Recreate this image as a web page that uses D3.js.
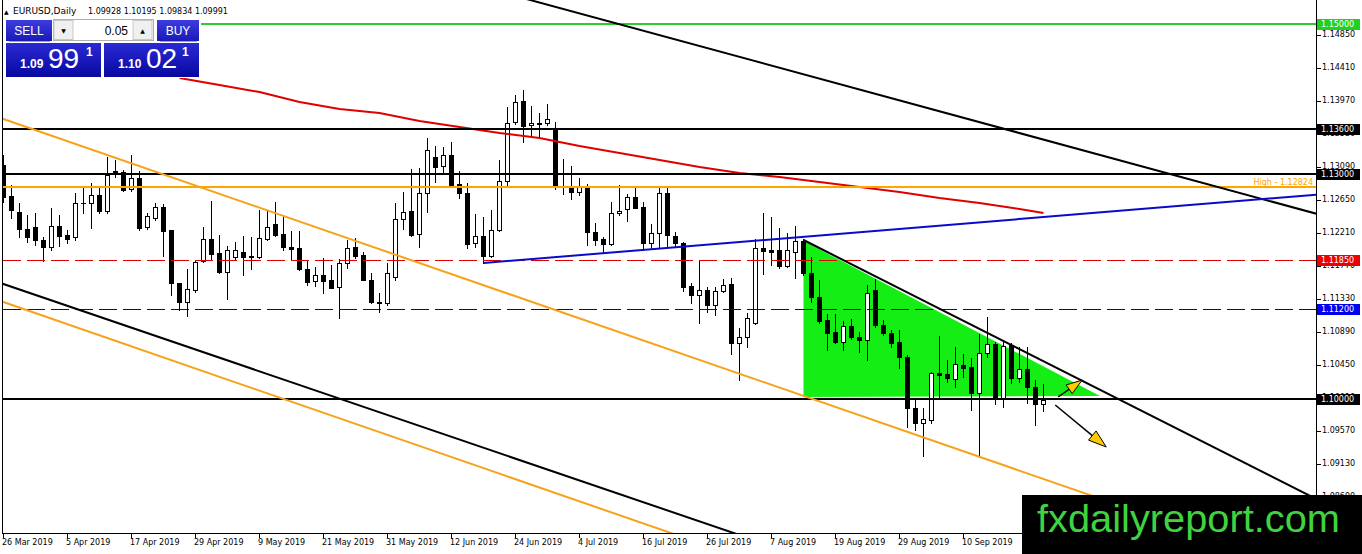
<!DOCTYPE html>
<html><head><meta charset="utf-8">
<script src="https://cdn.jsdelivr.net/npm/d3@7/dist/d3.min.js"></script>
<style>body{margin:0;background:#fff;overflow:hidden}svg{display:block}</style>
</head><body><svg id="c" width="1362" height="554"></svg>
<script>
// ---------- DATA ----------
const symbolTitle = "EURUSD,Daily";
const lastOHLC = "1.09928 1.10195 1.09834 1.09991";
const opens = [
1.1312,1.12707,1.12493,1.12267,1.12293,1.1212,1.12027,1.12307,1.12187,1.1216,
1.12607,1.12613,1.1272,1.12507,1.1304,1.13027,1.128,1.12947,1.12293,1.12413,
1.1256,1.12253,1.11547,1.11293,1.11453,1.1184,1.12133,1.11947,1.11693,1.11893,
1.1196,1.11907,1.11893,1.12133,1.12333,1.122,1.12027,1.12013,1.11733,1.11573,
1.11653,1.11587,1.11493,1.11813,1.12027,1.1192,1.11587,1.11293,1.1128,1.11627,
1.124,1.12507,1.122,1.12747,1.13227,1.13107,1.13253,1.12867,1.12747,1.1208,
1.12173,1.11907,1.12253,1.12907,1.13693,1.13974,1.13653,1.13667,1.1368,1.13613,
1.1284,1.12827,1.1276,1.12827,1.12227,1.12133,1.12067,1.1248,1.12533,1.12693,
1.1256,1.1208,1.12213,1.12747,1.12173,1.1208,1.11507,1.11387,1.11453,1.11253,
1.1144,1.11533,1.10747,1.10827,1.11013,1.12013,1.11987,1.11987,1.11773,1.1196,
1.12107,1.1168,1.1136,1.11053,1.10893,1.1076,1.10973,1.10827,1.10787,1.11453,
1.10987,1.1088,1.1076,1.1056,1.0988,1.0968,1.0972,1.10347,1.10333,1.10267,
1.10453,1.10427,1.1008,1.10613,1.10733,1.1,1.1072,1.1028,1.104,1.1016,
1.09928];
const highs = [
1.13253,1.12853,1.12613,1.12453,1.1248,1.1216,1.12547,1.12453,1.12253,1.12747,
1.12827,1.1288,1.1284,1.13227,1.13187,1.13053,1.13253,1.1304,1.1248,1.12613,
1.126,1.12253,1.11547,1.11733,1.11853,1.12293,1.1264,1.12187,1.1204,1.12093,
1.12173,1.1216,1.1252,1.1252,1.12627,1.12427,1.1224,1.1224,1.11853,1.1176,
1.1188,1.11787,1.11867,1.1212,1.12147,1.1196,1.1168,1.11413,1.11813,1.12613,
1.1276,1.13067,1.1308,1.1348,1.13373,1.1336,1.13427,1.1304,1.1288,1.12467,
1.12427,1.1252,1.13187,1.13893,1.14053,1.1412,1.13907,1.13813,1.13933,1.13693,
1.132,1.13107,1.12947,1.12867,1.12347,1.1216,1.12627,1.12853,1.12733,1.12813,
1.12627,1.12333,1.12813,1.12813,1.12227,1.12093,1.11547,1.11853,1.11493,1.11493,
1.116,1.11613,1.10947,1.11147,1.12133,1.1248,1.12427,1.1228,1.12213,1.12307,
1.12133,1.11893,1.11587,1.11133,1.11133,1.1104,1.11067,1.10893,1.1152,1.116,
1.11053,1.1092,1.1092,1.10587,1.10013,1.0988,1.1036,1.1084,1.1052,1.10693,
1.106,1.10547,1.10867,1.11093,1.1076,1.1076,1.10747,1.10693,1.10693,1.10253,
1.10195];
const lows = [
1.12627,1.12413,1.1216,1.12093,1.12053,1.1184,1.11987,1.1204,1.1208,1.1212,
1.1248,1.1228,1.1248,1.1248,1.1296,1.12773,1.12773,1.12253,1.12267,1.12387,
1.11907,1.11387,1.11187,1.11107,1.11427,1.11827,1.11867,1.1168,1.11333,1.11867,
1.11653,1.11733,1.1188,1.1212,1.12173,1.11987,1.11853,1.1172,1.1152,1.11507,
1.11413,1.1148,1.1108,1.11747,1.1188,1.11587,1.1128,1.1116,1.11253,1.11587,
1.12267,1.12173,1.12027,1.12493,1.12893,1.13013,1.1284,1.1268,1.12013,1.12027,
1.11813,1.11893,1.1224,1.1284,1.13667,1.13427,1.13493,1.13493,1.13653,1.128,
1.12733,1.12667,1.1272,1.12053,1.12053,1.11947,1.12053,1.12453,1.12373,1.12547,
1.11987,1.12,1.12027,1.12027,1.12027,1.1144,1.1128,1.11013,1.1116,1.1112,
1.11427,1.106,1.10253,1.10693,1.11,1.11667,1.11787,1.11747,1.1176,1.11613,
1.11653,1.11293,1.11013,1.10653,1.10747,1.10653,1.108,1.10627,1.1052,1.1096,
1.10853,1.10693,1.10413,1.09627,1.09587,1.0924,1.0968,1.10027,1.10227,1.1016,
1.10293,1.09853,1.09253,1.1056,1.09933,1.09893,1.10213,1.10227,1.09947,1.09653,
1.09834];
const closes = [
1.12693,1.1252,1.12267,1.1216,1.1212,1.12027,1.12307,1.12173,1.12133,1.12613,
1.12613,1.1272,1.12507,1.12987,1.13013,1.12787,1.12947,1.1228,1.1244,1.1256,
1.1224,1.11547,1.11293,1.11467,1.11827,1.12133,1.11933,1.11693,1.11987,1.11987,
1.11893,1.11893,1.12147,1.12293,1.12187,1.12027,1.12,1.11733,1.1156,1.11653,
1.11573,1.1148,1.11813,1.12013,1.11907,1.11587,1.11293,1.1128,1.1168,1.124,
1.12493,1.12187,1.12747,1.1332,1.13093,1.13253,1.12853,1.12747,1.12067,1.12173,
1.11907,1.12253,1.12907,1.1368,1.1396,1.1364,1.1368,1.1368,1.13733,1.12827,
1.12827,1.1276,1.12827,1.12227,1.1212,1.12067,1.1248,1.12507,1.12693,1.12547,
1.1208,1.12213,1.12747,1.12187,1.1208,1.11493,1.11387,1.11453,1.11253,1.1144,
1.1152,1.10747,1.10827,1.1108,1.12013,1.11973,1.1196,1.11773,1.11987,1.12107,
1.1168,1.1136,1.1104,1.1088,1.1076,1.10973,1.10827,1.10787,1.11413,1.10987,
1.1088,1.10747,1.1056,1.0988,1.0968,1.09733,1.10347,1.1032,1.1028,1.10467,
1.10413,1.1008,1.10613,1.10733,1.1,1.10707,1.1028,1.104,1.1016,1.09933,
1.09991];

// moving average (read at sample bars)
const maIdx  = [22,27,32,37,42,47,52,57,62,67,72,77,82,87,92,97,102,107,112,117,122,127,130];
const maVals = [1.1428,1.14187,1.14093,1.1396,1.13867,1.13813,1.13707,1.13627,1.13547,1.1348,1.13373,1.1328,
                1.13187,1.13093,1.13013,1.1296,1.12893,1.12827,1.1276,1.1268,1.12613,1.12533,1.1248];

const dateIdx    = [0,8,16,24,32,40,48,56,64,72,80,88,96,104,112,120];
const dateLabels = ["26 Mar 2019","5 Apr 2019","17 Apr 2019","29 Apr 2019","9 May 2019","21 May 2019",
  "31 May 2019","12 Jun 2019","24 Jun 2019","4 Jul 2019","16 Jul 2019","26 Jul 2019","7 Aug 2019",
  "19 Aug 2019","29 Aug 2019","10 Sep 2019"];
const priceTicks = [1.14850,1.14410,1.13970,1.13530,1.13090,1.12650,1.12210,1.11770,1.11330,
  1.10890,1.10450,1.10010,1.09570,1.09130,1.08690];

// horizontal levels
const levelPrices = [1.15000,1.13600,1.13000,1.12824,1.11850,1.11200,1.10000];
const boxPrices   = [1.15000,1.13600,1.13000,1.11850,1.11200,1.10000];
const highLabel   = "High - 1.12824";

// trend lines: two anchors (bar index, price)
const lowerBlackIdx = [0,80],   lowerBlackP = [1.11532,1.08623];
const upperBlackIdx = [70,150], upperBlackP = [1.15199,1.12879];
const upperOrangeIdx= [0,100],  upperOrangeP= [1.13732,1.10041];
const lowerOrangeIdx= [0,80],   lowerOrangeP= [1.11292,1.0834];
const blueIdx       = [60,105], blueP       = [1.11813,1.12207];
const triLineIdx    = [100,135],triLineP    = [1.1212,1.10235];
// green triangle
const triIdx   = [100,100,137.06];
const triPrice = [1.12107,1.10027,1.1004];
// arrows
const upArrowIdx = [131.84,134.84], upArrowP = [1.10027,1.10253];
const dnArrowIdx = [131.47,137.84], dnArrowP = [1.0992,1.0936];

// trading panel
const sellBig = "99", sellSmall = "1.09", buyBig = "02", buySmall = "1.10", pipFrac = "1", lotSize = "0.05";
const logoText = "fxdailyreport.com";

// ---------- DRAW ----------
const svg = d3.select('#c');
const X0 = 3, X1 = 1316, Y0 = 0, Y1 = 533;
const x = d3.scaleLinear().domain([0,164]).range([3.5,1315.5]);
const y = d3.scaleLinear().domain([1.082133,1.1532]).range([533,0]);
const FONT = "'DejaVu Sans', Verdana, sans-serif";

svg.append('rect').attr('width',1362).attr('height',554).attr('fill','#fff');
const defs = svg.append('defs');
defs.append('clipPath').attr('id','plot').append('rect')
  .attr('x',X0).attr('y',Y0).attr('width',X1-X0).attr('height',Y1-Y0);
const gr1 = defs.append('linearGradient').attr('id','btn').attr('x1',0).attr('y1',0).attr('x2',0).attr('y2',1);
gr1.append('stop').attr('offset','0%').attr('stop-color','#3c3ce0');
gr1.append('stop').attr('offset','100%').attr('stop-color','#1a1ab8');
const gr2 = defs.append('linearGradient').attr('id','pbox').attr('x1',0).attr('y1',0).attr('x2',0).attr('y2',1);
gr2.append('stop').attr('offset','0%').attr('stop-color','#2a2ad4');
gr2.append('stop').attr('offset','100%').attr('stop-color','#0808a0');

const g = svg.append('g').attr('clip-path','url(#plot)');

// green triangle (background)
g.append('path')
  .attr('d', d3.line()(triIdx.map((d,k)=>[x(d), y(triPrice[k])])) + 'Z')
  .attr('fill','#14ee14');

// candles
const bars = d3.range(opens.length).map(i=>({i,o:opens[i],h:highs[i],l:lows[i],c:closes[i]}));
const cg = g.append('g').attr('shape-rendering','crispEdges');
cg.selectAll('rect.wick').data(bars).join('rect').attr('class','wick')
  .attr('x',d=>Math.floor(x(d.i))).attr('y',d=>Math.round(y(d.h)))
  .attr('width',1).attr('height',d=>Math.max(1,Math.round(y(d.l))-Math.round(y(d.h))+1))
  .attr('fill','#000');
const bodyTop = d=>Math.round(y(Math.max(d.o,d.c)));
const bodyH = d=>Math.max(1,Math.round(y(Math.min(d.o,d.c)))-bodyTop(d)+1);
cg.selectAll('rect.body').data(bars).join('rect').attr('class','body')
  .attr('x',d=>Math.floor(x(d.i))-2).attr('y',bodyTop)
  .attr('width',5).attr('height',bodyH).attr('fill','#000');
cg.selectAll('rect.inner').data(bars.filter(d=>d.c>d.o && bodyH(d)>2)).join('rect').attr('class','inner')
  .attr('x',d=>Math.floor(x(d.i))-1).attr('y',d=>bodyTop(d)+1)
  .attr('width',3).attr('height',d=>bodyH(d)-2).attr('fill','#fff');

// moving average
g.append('path').attr('d', d3.line()(maIdx.map((d,k)=>[x(d), y(maVals[k])])))
  .attr('fill','none').attr('stroke','#e00000').attr('stroke-width',2);

// horizontal levels
const levelColor = ['#2ecc2e','#000','#000','#ffa500','#e00000','#0000c0','#000'];
const levelWidth = [2,2,2,2,1,1,2];
const levelDash  = [null,null,null,null,'18,6','18,6',null];
levelPrices.forEach((p,k)=>{
  const yy = levelWidth[k]===1 ? Math.round(y(p))+0.5 : Math.round(y(p));
  g.append('line').attr('x1',X0).attr('x2',X1).attr('y1',yy).attr('y2',yy)
    .attr('stroke',levelColor[k]).attr('stroke-width',levelWidth[k])
    .attr('stroke-dasharray',levelDash[k]).attr('shape-rendering','crispEdges');
});

// trend lines
function trend(idx, pr, color, ray){
  const xa=x(idx[0]), ya=y(pr[0]), xb=x(idx[1]), yb=y(pr[1]);
  const s=(yb-ya)/(xb-xa);
  const xs = ray ? xa : X0-5, xe = X1+5;
  g.append('line').attr('x1',xs).attr('y1',ya+s*(xs-xa)).attr('x2',xe).attr('y2',ya+s*(xe-xa))
    .attr('stroke',color).attr('stroke-width',2);
}
trend(lowerBlackIdx,lowerBlackP,'#000',false);
trend(upperBlackIdx,upperBlackP,'#000',false);
trend(upperOrangeIdx,upperOrangeP,'#f7a21b',false);
trend(lowerOrangeIdx,lowerOrangeP,'#f7a21b',false);
trend(blueIdx,blueP,'#0a0ac8',true);
trend(triLineIdx,triLineP,'#000',true);

// arrows
function arrow(idx, pr, headLen){
  const xa=x(idx[0]), ya=y(pr[0]), xb=x(idx[1]), yb=y(pr[1]);
  const L=Math.hypot(xb-xa,yb-ya), ux=(xb-xa)/L, uy=(yb-ya)/L;
  const bx=xb-ux*headLen, by=yb-uy*headLen, hw=headLen*0.33;
  g.append('line').attr('x1',xa).attr('y1',ya).attr('x2',bx).attr('y2',by)
    .attr('stroke','#000').attr('stroke-width',1.5);
  g.append('path').attr('d',`M${xb},${yb}L${bx-uy*hw},${by+ux*hw}L${bx+uy*hw},${by-ux*hw}Z`)
    .attr('fill','#ffcc00').attr('stroke','#000').attr('stroke-width',1);
}
arrow(upArrowIdx,upArrowP,16);
arrow(dnArrowIdx,dnArrowP,18);

// frame
svg.append('g').attr('shape-rendering','crispEdges').call(s=>{
  s.append('line').attr('x1',2.5).attr('x2',2.5).attr('y1',0).attr('y2',534).attr('stroke','#000');
  s.append('line').attr('x1',X1+0.5).attr('x2',X1+0.5).attr('y1',0).attr('y2',534).attr('stroke','#000');
  s.append('line').attr('x1',2).attr('x2',X1+1).attr('y1',Y1+0.5).attr('y2',Y1+0.5).attr('stroke','#000');
});

// price axis
const ax = svg.append('g');
priceTicks.forEach(p=>{
  const yy=Math.round(y(p))+0.5;
  ax.append('line').attr('x1',X1+1).attr('x2',X1+5).attr('y1',yy).attr('y2',yy).attr('stroke','#000').attr('shape-rendering','crispEdges');
  ax.append('text').attr('x',1322).attr('y',yy-1).attr('dominant-baseline','central')
    .attr('font-family',FONT).attr('font-size',8).attr('fill','#000').text(p.toFixed(5));
});
// date axis
dateIdx.forEach((d,k)=>{
  const xx=Math.floor(x(d))+0.5;
  ax.append('line').attr('x1',xx).attr('x2',xx).attr('y1',Y1+1).attr('y2',Y1+5).attr('stroke','#000').attr('shape-rendering','crispEdges');
  ax.append('text').attr('x',xx-1.5).attr('y',542).attr('dominant-baseline','central')
    .attr('font-family',FONT).attr('font-size',8).attr('fill','#000').text(dateLabels[k]);
});

// level boxes on axis
const boxColor = ['#1ed21e','#000','#000','#ee0000','#0000ee','#000'];
boxPrices.forEach((p,k)=>{
  const yy=Math.round(y(p));
  ax.append('rect').attr('x',1317).attr('y',yy-5).attr('width',43).attr('height',11).attr('fill',boxColor[k]);
  ax.append('text').attr('x',1321).attr('y',yy+0.5).attr('dominant-baseline','central')
    .attr('font-family',FONT).attr('font-size',8).attr('fill','#fff').text(p.toFixed(5));
});
ax.append('text').attr('x',1313).attr('y',y(1.12824)-5).attr('text-anchor','end').attr('dominant-baseline','central')
  .attr('font-family',FONT).attr('font-size',8).attr('fill','#ffa500').text(highLabel);

// header
svg.append('text').attr('x',4).attr('y',11).attr('dominant-baseline','central')
  .attr('font-family',FONT).attr('font-size',6).attr('fill','#000').text('▲');
svg.append('text').attr('x',13).attr('y',11).attr('dominant-baseline','central')
  .attr('font-family',FONT).attr('font-size',9).attr('fill','#000').text(symbolTitle);
svg.append('text').attr('x',88).attr('y',11).attr('dominant-baseline','central')
  .attr('font-family',FONT).attr('font-size',8).attr('fill','#000').text(lastOHLC);

// trading panel
const pn = svg.append('g');
const SANS = "'Liberation Sans', Arial, sans-serif";
pn.append('rect').attr('x',3).attr('y',17).attr('width',198).attr('height',61).attr('fill','#fff');
[[6,46,'SELL'],[157,42,'BUY']].forEach(([bx,bw,t])=>{
  pn.append('rect').attr('x',bx).attr('y',20).attr('width',bw).attr('height',21).attr('fill','url(#btn)');
  pn.append('line').attr('x1',bx+3).attr('x2',bx+bw-2).attr('y1',41.5).attr('y2',41.5).attr('stroke','#9a9af0');
  pn.append('text').attr('x',bx+bw/2).attr('y',31).attr('text-anchor','middle').attr('dominant-baseline','central')
    .attr('font-family',SANS).attr('font-size',12).attr('fill','#fff').text(t);
});
pn.append('rect').attr('x',53.5).attr('y',19.5).attr('width',100).attr('height',21).attr('fill','#fff').attr('stroke','#b0b0b0');
pn.append('rect').attr('x',54).attr('y',20.5).attr('width',19).attr('height',19).attr('fill','#f0f0f0').attr('stroke','#c8c8c8');
pn.append('rect').attr('x',133).attr('y',20.5).attr('width',19).attr('height',19).attr('fill','#f0f0f0').attr('stroke','#c8c8c8');
pn.append('text').attr('x',63.5).attr('y',30).attr('text-anchor','middle').attr('dominant-baseline','central')
  .attr('font-family',FONT).attr('font-size',6).text('▼');
pn.append('text').attr('x',142.5).attr('y',30).attr('text-anchor','middle').attr('dominant-baseline','central')
  .attr('font-family',FONT).attr('font-size',6).text('▲');
pn.append('text').attr('x',128).attr('y',30.5).attr('text-anchor','end').attr('dominant-baseline','central')
  .attr('font-family',SANS).attr('font-size',12).attr('fill','#000').text(lotSize);
[[6,95,sellSmall,sellBig,20,48,86],[104,95,buySmall,buyBig,118,146,182]].forEach(([bx,bw,sm,bg,xs,xb,xf])=>{
  pn.append('rect').attr('x',bx).attr('y',43).attr('width',bw).attr('height',34).attr('fill','url(#pbox)');
  pn.append('text').attr('x',xs).attr('y',68).attr('font-family',SANS).attr('font-weight','bold')
    .attr('font-size',12).attr('fill','#fff').text(sm);
  pn.append('text').attr('x',xb).attr('y',68).attr('font-family',SANS)
    .attr('font-size',28).attr('fill','#fff').text(bg);
  pn.append('text').attr('x',xf).attr('y',56).attr('font-family',SANS).attr('font-weight','bold')
    .attr('font-size',12).attr('fill','#fff').text(pipFrac);
});

// logo
svg.append('rect').attr('x',1022).attr('y',495).attr('width',340).attr('height',59).attr('fill','#000');
svg.append('text').attr('x',1037).attr('y',532).attr('font-family',SANS).attr('font-size',38)
  .attr('textLength',303).attr('lengthAdjust','spacingAndGlyphs').attr('fill','#3fd43f').text(logoText);
</script></body></html>
